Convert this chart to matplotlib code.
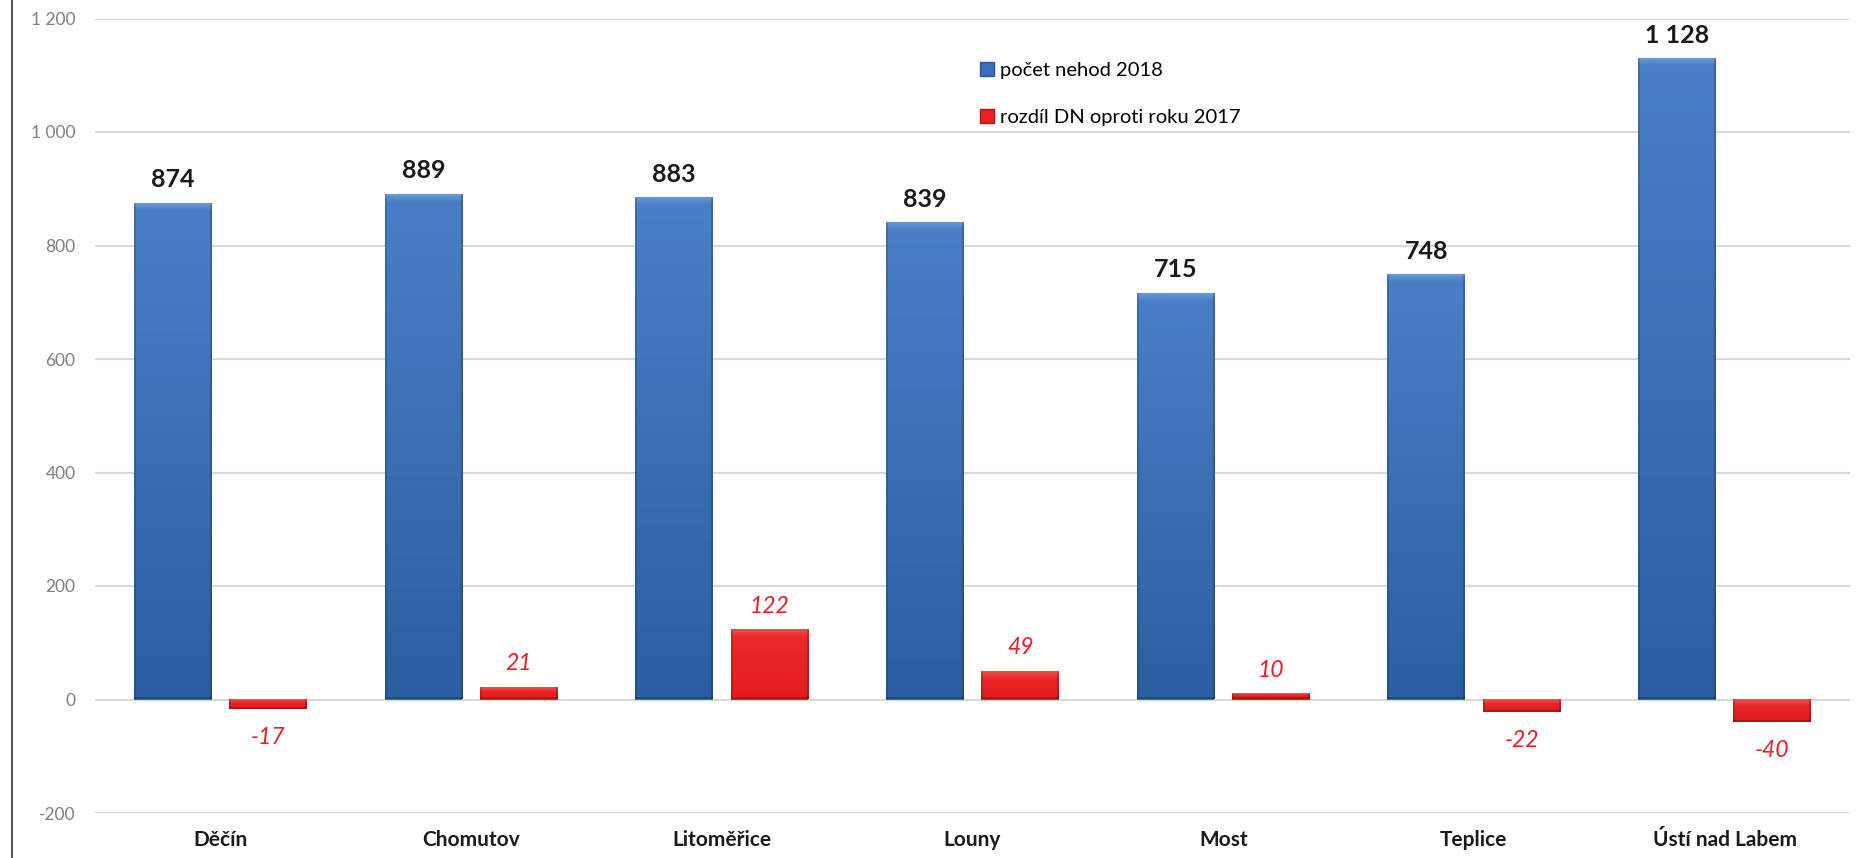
import numpy as np
import matplotlib
matplotlib.use("Agg")
import matplotlib.pyplot as plt
from matplotlib.patches import Patch
from matplotlib.lines import Line2D

categories = ['Děčín', 'Chomutov', 'Litoměřice', 'Louny', 'Most', 'Teplice', 'Ústí nad Labem']
pocet_nehod_2018 = [874, 889, 883, 839, 715, 748, 1128]
rozdil_2017 = [-17, 21, 122, 49, 10, -22, -40]
yticks = [-200, 0, 200, 400, 600, 800, 1000, 1200]
ytick_labels = ['-200', '0', '200', '400', '600', '800', '1 000', '1 200']
legend_labels = ['počet nehod 2018', 'rozdíl DN oproti roku 2017']


def fmt(v):
    return f'{v:,}'.replace(',', ' ')


plt.rcParams['font.family'] = ['Lato', 'DejaVu Sans']
W, H = 1857, 858
fig = plt.figure(figsize=(W / 100, H / 100), dpi=100)
ax = fig.add_axes([95 / W, 45 / H, 1755 / W, 794.5 / H])

x = np.arange(len(categories))
off, bw = 0.19, 0.31
XL, YL = (-0.5, len(categories) - 0.5), (-200, 1200)
ax.set_xlim(*XL)
ax.set_ylim(*YL)

blue_bars = ax.bar(x - off, pocet_nehod_2018, bw, color='#3A70B8', zorder=3)
red_bars = ax.bar(x + off, rozdil_2017, bw, color='#E82223', zorder=3)


def shade(bar, top, bottom, light):
    x0, w = bar.get_x(), bar.get_width()
    y0, h = bar.get_y(), bar.get_height()
    ylo, yhi = min(y0, y0 + h), max(y0, y0 + h)
    p0 = ax.transData.transform((x0, ylo))
    p1 = ax.transData.transform((x0 + w, yhi))
    wpx = max(int(round(p1[0] - p0[0])), 4)
    hpx = max(int(round(p1[1] - p0[1])), 4)
    t = np.linspace(0, 1, hpx)[:, None]
    base = (1 - t) * np.array(top)[None, :] + t * np.array(bottom)[None, :]
    img = np.repeat(base[:, None, :], wpx, axis=1)
    b = min(7, max(hpx // 3, 1))
    for i in range(b):
        a = 0.45 * (1 - i / b)
        img[i] = img[i] * (1 - a) + np.array(light) * a
    img[:, :2] *= 0.85
    img[:, -2:] *= 0.8
    img[-2:] *= 0.78
    img = np.clip(img, 0, 1)
    ax.imshow(img, extent=(x0, x0 + w, ylo, yhi), origin='upper',
              aspect='auto', zorder=3.1, interpolation='bilinear')


for bar in blue_bars:
    shade(bar, (0.29, 0.50, 0.78), (0.17, 0.37, 0.63), (0.55, 0.72, 0.92))
for bar in red_bars:
    shade(bar, (0.93, 0.17, 0.17), (0.88, 0.11, 0.12), (0.98, 0.45, 0.45))

ax.set_xlim(*XL)
ax.set_ylim(*YL)

# value labels
for bar, v in zip(blue_bars, pocet_nehod_2018):
    ax.annotate(fmt(v), (bar.get_x() + bar.get_width() / 2, v), xytext=(0, 9),
                textcoords='offset points', ha='center', va='bottom',
                fontsize=18, fontweight='bold', color='#1a1a1a', zorder=5)
for bar, v in zip(red_bars, rozdil_2017):
    if v >= 0:
        ax.annotate(fmt(v), (bar.get_x() + bar.get_width() / 2, v), xytext=(0, 9.5),
                    textcoords='offset points', ha='center', va='bottom',
                    fontsize=16.5, fontstyle='italic', color='#EE1C24', zorder=5)
    else:
        ax.annotate(fmt(v), (bar.get_x() + bar.get_width() / 2, v), xytext=(0, -13),
                    textcoords='offset points', ha='center', va='top',
                    fontsize=16.5, fontstyle='italic', color='#EE1C24', zorder=5)

ax.set_yticks(yticks)
ax.set_yticklabels(ytick_labels)
ax.set_xticks(x)
ax.set_xticklabels(categories, fontsize=15, fontweight='bold', color='#1a1a1a')
ax.tick_params(axis='y', length=0, pad=14, labelsize=12.5, labelcolor='#7F7F7F')
ax.tick_params(axis='x', length=0, pad=12)
ax.yaxis.grid(True, color='#D9D9D9', lw=1.5)
ax.set_axisbelow(True)
for s in ax.spines.values():
    s.set_visible(False)

handles = [Patch(facecolor='#3A70B8', edgecolor='#2A5A98'),
           Patch(facecolor='#E82223', edgecolor='#B01515')]
ax.legend(handles, legend_labels, loc='upper left', bbox_to_anchor=(0.494, 0.968),
          frameon=False, fontsize=14.5, handlelength=0.7, handleheight=0.7,
          handletextpad=0.3, labelspacing=1.5)

fig.add_artist(Line2D([12 / W, 12 / W], [0, 1], transform=fig.transFigure,
                      color='#595959', lw=1.5))

fig.savefig('out.png', dpi=100)
